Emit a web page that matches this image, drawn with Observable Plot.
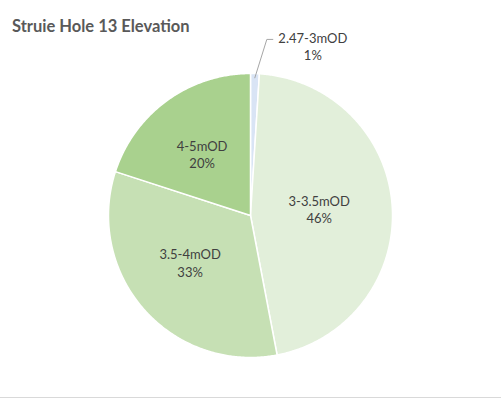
<!DOCTYPE html>
<html>
<head>
<meta charset="utf-8">
<script src="https://cdn.jsdelivr.net/npm/d3@7"></script>
<script src="https://cdn.jsdelivr.net/npm/@observablehq/plot@0.6"></script>
<style>
  html, body { margin: 0; padding: 0; background: #fff; }
  #wrap { position: relative; width: 501px; height: 399px; overflow: hidden; background: #fff; }
  #title { position: absolute; left: 12px; top: 17px; z-index: 2; font: bold 16.5px Lato, sans-serif; line-height: 19px; color: #595959; white-space: nowrap; }
  #chart { position: absolute; left: 0; top: 0; }
  #border { position: absolute; left: 0; top: 397px; width: 501px; height: 1px; background: #d9d9d9; }
</style>
</head>
<body>
<div id="wrap">
  <div id="title">Struie Hole 13 Elevation</div>
  <div id="chart"></div>
  <div id="border"></div>
</div>
<script>
const labels = ["2.47-3mOD", "3-3.5mOD", "3.5-4mOD", "4-5mOD"];
const percents = [1, 46, 33, 20];
const colors = ["#d9e4f5", "#e2efda", "#c6e0b4", "#a9d18e"];

const rows = labels.map((label, i) => ({label, pct: percents[i]}));

const W = 501, H = 396, cx = 250, cy = 215, R = 142;
const arcs = d3.pie().sort(null).value(d => d.pct)(rows);

const slicePts = arcs.flatMap(p => {
  const label = p.data.label;
  const n = Math.max(2, Math.ceil((p.endAngle - p.startAngle) * 180 / Math.PI * 2));
  const pts = [{label, x: 0, y: 0}];
  for (let i = 0; i <= n; i++) {
    const a = p.startAngle + (p.endAngle - p.startAngle) * i / n;
    pts.push({label, x: R * Math.sin(a), y: -R * Math.cos(a)});
  }
  pts.push({label, x: 0, y: 0});
  return pts;
});

const inside = [], outside = [], leader = [];
arcs.forEach(p => {
  const a = (p.startAngle + p.endAngle) / 2;
  const text = `${p.data.label}\n${p.data.pct}%`;
  if (p.data.pct >= 5) {
    const r = R * 0.52;
    inside.push({x: r * Math.sin(a) - 5, y: -r * Math.cos(a) - 2, text});
  } else {
    const x0 = R * 0.97 * Math.sin(a), y0 = -R * 0.97 * Math.cos(a);
    const ex = x0 + 12, ey = -R * 1.24;
    leader.push({label: p.data.label, x: x0, y: y0}, {label: p.data.label, x: ex, y: ey}, {label: p.data.label, x: ex + 6, y: ey});
    outside.push({x: ex + 46, y: ey + 7, text});
  }
});

const chart = Plot.plot({
  width: W,
  height: H,
  margin: 0,
  style: {fontFamily: "Lato, sans-serif", fontSize: "13px", background: "transparent"},
  x: {domain: [-cx, W - cx], range: [0, W], axis: null},
  y: {domain: [-cy, H - cy], range: [0, H], axis: null},
  color: {domain: labels, range: colors},
  marks: [
    Plot.line(slicePts, {x: "x", y: "y", z: "label", fill: "label", stroke: "#ffffff", strokeWidth: 1.5, strokeLinejoin: "round"}),
    Plot.line(leader, {x: "x", y: "y", z: "label", stroke: "#a6a6a6", strokeWidth: 1}),
    Plot.text(inside, {x: "x", y: "y", text: "text", fill: "#404040", fontSize: 13, lineHeight: 1.35}),
    Plot.text(outside, {x: "x", y: "y", text: "text", fill: "#404040", fontSize: 13, lineHeight: 1.25})
  ]
});
document.getElementById("chart").appendChild(chart);
</script>
</body>
</html>
